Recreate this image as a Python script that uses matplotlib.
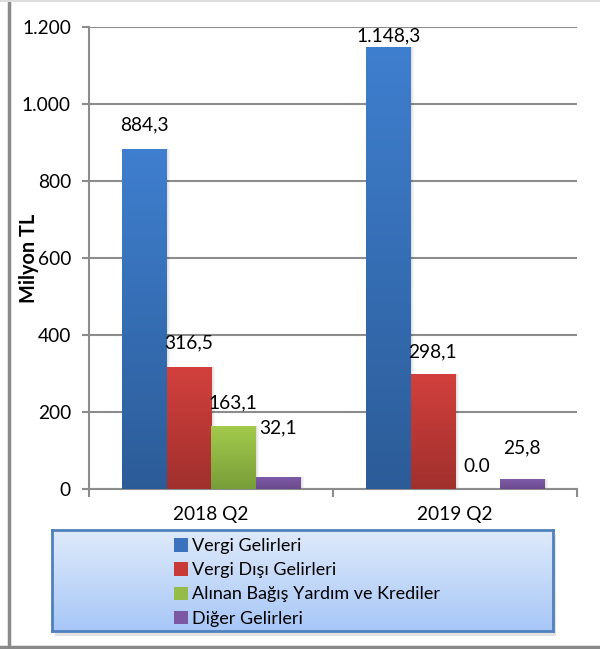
import numpy as np
import matplotlib
matplotlib.use("Agg")
import matplotlib.pyplot as plt
from matplotlib.colors import LinearSegmentedColormap
from matplotlib.patches import Rectangle
from matplotlib.lines import Line2D

plt.rcParams['font.family'] = ['Lato', 'DejaVu Sans']

# data
categories = ["2018 Q2", "2019 Q2"]
series_names = ["Vergi Gelirleri", "Vergi Dışı Gelirleri",
                "Alınan Bağış Yardım ve Krediler", "Diğer Gelirleri"]
values_2018 = [884.3, 316.5, 163.1, 32.1]
values_2019 = [1148.3, 298.1, 0.0, 25.8]
labels_2018 = ["884,3", "316,5", "163,1", "32,1"]
labels_2019 = ["1.148,3", "298,1", "0.0", "25,8"]
yticks = [0, 200, 400, 600, 800, 1000, 1200]
ytick_labels = ["0", "200", "400", "600", "800", "1.000", "1.200"]

# style: gradient top / bottom colours per series
grad_top = ["#3f7fcf", "#d2403d", "#a3ca4c", "#7f5ca8"]
grad_bot = ["#2c5c98", "#a0302d", "#789e39", "#6a4a8e"]
legend_colors = ["#3a72bd", "#c83a37", "#95bb48", "#7a58a2"]
# vertical nudges of the value labels above bar tops (pixels)
label_nudge = [[24, 24, 23, 49], [11, 22, 23, 31]]

W, H = 600, 649
FS = 13.8
fig = plt.figure(figsize=(6.0, 6.49), dpi=100)

ax = fig.add_axes([89 / W, 1 - 489 / H, (577 - 89) / W, (489 - 27) / H])
ax.set_xlim(-0.5, 1.5)
ax.set_ylim(0, 1200)

bar_w = 44.5 / 244.0
offsets = (np.arange(4) - 1.5) * bar_w
all_vals = [values_2018, values_2019]
all_labels = [labels_2018, labels_2019]

grid_col = "#8c8c8c"
ax.set_axisbelow(True)
ax.yaxis.grid(True, color=grid_col, lw=1.5)
for s in ["top", "right"]:
    ax.spines[s].set_visible(False)
ax.spines["left"].set_color(grid_col)
ax.spines["left"].set_linewidth(1.5)
ax.spines["bottom"].set_color(grid_col)
ax.spines["bottom"].set_linewidth(1.5)

grad = np.linspace(1, 0, 256).reshape(-1, 1)
for ci, vals in enumerate(all_vals):
    for si, v in enumerate(vals):
        x0 = ci + offsets[si] - bar_w / 2
        if v > 0:
            # soft shadow on the right
            for k in range(4):
                sh = Rectangle((x0 + 0.004 * (k + 1), 0), bar_w, v, facecolor="#000000",
                               alpha=0.04, edgecolor="none", zorder=2)
                ax.add_patch(sh)
            bar = Rectangle((x0, 0), bar_w, v, facecolor="none", edgecolor="none", zorder=3)
            ax.add_patch(bar)
            cmap = LinearSegmentedColormap.from_list("g%d" % si, [grad_bot[si], grad_top[si]])
            im = ax.imshow(grad, cmap=cmap, extent=(x0, x0 + bar_w, 0, v),
                           aspect="auto", zorder=3, vmin=0, vmax=1)
            im.set_clip_path(bar)
        ax.annotate(all_labels[ci][si], (ci + offsets[si], v),
                    xytext=(0, label_nudge[ci][si] * 0.72), textcoords="offset points",
                    ha="center", va="center", fontsize=FS, color="#000000", zorder=5,
                    annotation_clip=False)

ax.set_xlim(-0.5, 1.5)
ax.set_ylim(0, 1200)

ax.set_yticks(yticks)
ax.set_yticklabels(ytick_labels)
ax.tick_params(axis="y", length=5, width=1.5, color=grid_col, labelsize=FS, pad=8)
ax.set_xticks([-0.5, 0.5, 1.5])
ax.set_xticklabels([])
ax.tick_params(axis="x", which="major", length=6, width=1.5, color=grid_col)
ax.set_xticks([0, 1], minor=True)
ax.set_xticklabels(categories, minor=True)
ax.tick_params(axis="x", which="minor", length=0, labelsize=FS, pad=12)
ax.set_ylabel("Milyon TL", fontsize=FS + 0.5, fontweight="bold")
ax.yaxis.set_label_coords((39 - 89) / (577 - 89), 0.5)

# legend box with gradient fill
lx0, ly0, lx1, ly1 = 52, 530, 553, 631
sh_ax = fig.add_axes([(lx0 + 3) / W, 1 - (ly1 + 5) / H, (lx1 - lx0) / W, (ly1 - ly0) / H])
sh_ax.set_facecolor("#cfcfcf")
sh_ax.set_xticks([])
sh_ax.set_yticks([])
for s in sh_ax.spines.values():
    s.set_visible(False)
sh_ax.patch.set_alpha(0.6)

lax = fig.add_axes([lx0 / W, 1 - ly1 / H, (lx1 - lx0) / W, (ly1 - ly0) / H])
lcmap = LinearSegmentedColormap.from_list("leg", ["#a7c7f7", "#dfeafa"])
lax.imshow(grad, cmap=lcmap, extent=(0, 1, 0, 1), aspect="auto", vmin=0, vmax=1)
lax.set_xlim(0, 1)
lax.set_ylim(0, 1)
lax.set_xticks([])
lax.set_yticks([])
for s in lax.spines.values():
    s.set_color("#4f81bd")
    s.set_linewidth(2)

handles = [Rectangle((0, 0), 1, 1, facecolor=c, edgecolor="none") for c in legend_colors]
lax.legend(handles, series_names, loc="upper left",
           bbox_to_anchor=((167 - lx0) / (lx1 - lx0), 1 - 1 / (ly1 - ly0)), frameon=False,
           fontsize=13.0, handlelength=0.75, handleheight=0.75, handletextpad=0.25,
           labelspacing=0.45, borderaxespad=0)

# outer frame
fig.add_artist(Line2D([9 / W, 9 / W], [0, 1], transform=fig.transFigure, color="#8a8a8a", lw=2.5))
fig.add_artist(Line2D([0, 1], [1 - 647 / H, 1 - 647 / H], transform=fig.transFigure, color="#8a8a8a", lw=2.5))
fig.add_artist(Line2D([0, 1], [1 - 1 / H, 1 - 1 / H], transform=fig.transFigure, color="#dddddd", lw=1.5))

fig.savefig("out.png", dpi=100)
